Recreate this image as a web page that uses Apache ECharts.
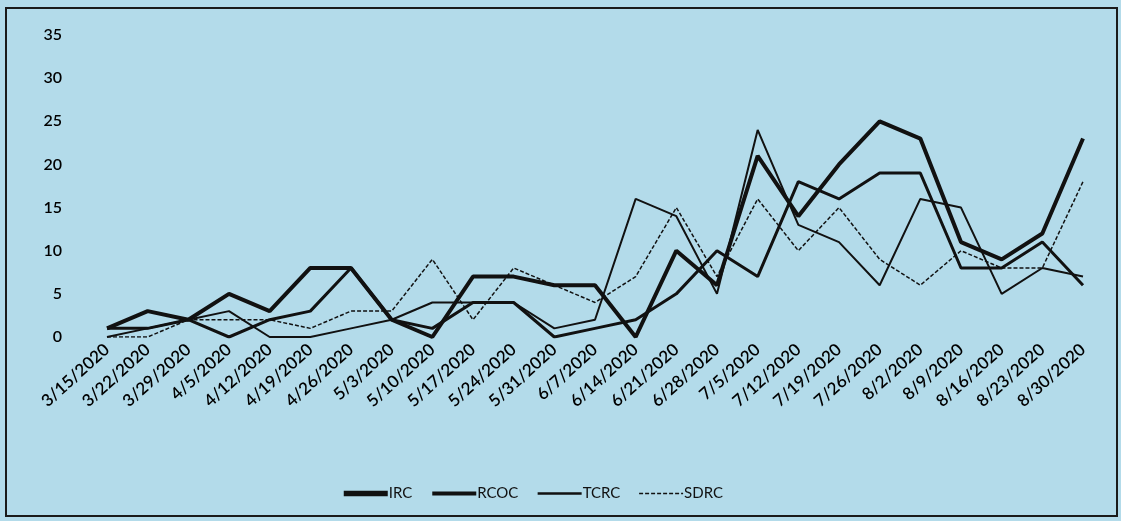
<!DOCTYPE html>
<html>
<head>
<meta charset="utf-8">
<script src="https://cdn.jsdelivr.net/npm/echarts@6/dist/echarts.min.js"></script>
<style>
  html, body { margin: 0; padding: 0; background: #ffffff; }
  #chart { width: 1121px; height: 521px; }
</style>
</head>
<body>
<div id="chart"></div>
<script>
// Weekly counts per program
const categories = [
  '3/15/2020', '3/22/2020', '3/29/2020', '4/5/2020', '4/12/2020', '4/19/2020',
  '4/26/2020', '5/3/2020', '5/10/2020', '5/17/2020', '5/24/2020', '5/31/2020',
  '6/7/2020', '6/14/2020', '6/21/2020', '6/28/2020', '7/5/2020', '7/12/2020',
  '7/19/2020', '7/26/2020', '8/2/2020', '8/9/2020', '8/16/2020', '8/23/2020',
  '8/30/2020'
];
const irc  = [1, 3, 2, 5, 3, 8, 8, 2, 0, 7, 7, 6, 6, 0, 10, 6, 21, 14, 20, 25, 23, 11, 9, 12, 23];
const rcoc = [1, 1, 2, 0, 2, 3, 8, 2, 1, 4, 4, 0, 1, 2, 5, 10, 7, 18, 16, 19, 19, 8, 8, 11, 6];
const tcrc = [0, 1, 2, 3, 0, 0, 1, 2, 4, 4, 4, 1, 2, 16, 14, 5, 24, 13, 11, 6, 16, 15, 5, 8, 7];
const sdrc = [0, 0, 2, 2, 2, 1, 3, 3, 9, 2, 8, 6, 4, 7, 15, 7, 16, 10, 15, 9, 6, 10, 8, 8, 18];
const yTicks = { min: 0, max: 35, step: 5 };

const font = 'Lato, "Open Sans", sans-serif';
const ink = '#111111';

// stroke widths shared by the plotted lines and their legend keys
const widths = { IRC: 4, RCOC: 3, TCRC: 2, SDRC: 1.5 };

function lineSeries(name, data, type) {
  return {
    name: name,
    type: 'line',
    data: data,
    symbol: 'none',
    smooth: false,
    lineStyle: { color: ink, width: widths[name], type: type || 'solid' },
    itemStyle: { color: ink },
    emphasis: { disabled: true }
  };
}

function legendKey(name, w) {
  return { name: name, lineStyle: { width: w } };
}

const chart = echarts.init(document.getElementById('chart'), null, { renderer: 'canvas' });
chart.setOption({
  backgroundColor: '#b3dbea',
  animation: false,
  textStyle: { fontFamily: font },
  grid: { left: 107, right: 38, top: 35, bottom: 184, containLabel: false },
  graphic: [{
    type: 'rect',
    shape: { x: 6, y: 8, width: 1111, height: 508 },
    style: { fill: 'none', stroke: '#1a1a1a', lineWidth: 2 },
    silent: true
  }],
  legend: {
    data: [
      legendKey('IRC', 5.5),
      legendKey('RCOC', 4),
      legendKey('TCRC', 2.5),
      legendKey('SDRC', 1.5)
    ],
    left: 336,
    top: 481,
    itemWidth: 44,
    itemHeight: 14,
    itemGap: 18,
    itemStyle: { opacity: 0 },
    textStyle: { color: ink, fontSize: 15, fontFamily: font, padding: [0, 0, 0, -4] }
  },
  xAxis: {
    type: 'category',
    data: categories,
    boundaryGap: false,
    axisLine: { show: false },
    axisTick: { show: false },
    splitLine: { show: false },
    axisLabel: {
      interval: 0,
      rotate: 42,
      margin: 10,
      color: '#000',
      fontSize: 17,
      fontWeight: 600,
      fontFamily: font
    }
  },
  yAxis: {
    type: 'value',
    min: yTicks.min,
    max: yTicks.max,
    interval: yTicks.step,
    axisLine: { show: false },
    axisTick: { show: false },
    splitLine: { show: false },
    axisLabel: { color: '#000', fontSize: 16, fontWeight: 600, fontFamily: font, margin: 45 }
  },
  series: [
    lineSeries('IRC', irc),
    lineSeries('RCOC', rcoc),
    lineSeries('TCRC', tcrc),
    lineSeries('SDRC', sdrc, [4, 2])
  ]
});
</script>
</body>
</html>
